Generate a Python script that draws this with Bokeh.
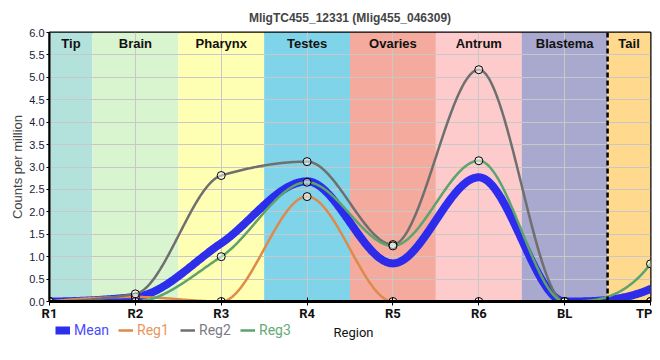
import numpy as np
from bokeh.plotting import figure
from bokeh.layouts import column
from bokeh.models import (Range1d, FixedTicker, Span, Legend, LegendItem,
                          PrintfTickFormatter, Label)
from bokeh.core.properties import value
from bokeh.embed import file_html
from bokeh.resources import INLINE

# ---------------- data ----------------
regions = ["R1", "R2", "R3", "R4", "R5", "R6", "BL", "TP"]
mean_vals = [0.0, 0.10, 1.30, 2.68, 0.85, 2.77, 0.0, 0.28]
reg1_vals = [0.0, 0.10, 0.0, 2.34, 0.0, 0.0, 0.0, 0.0]
reg2_vals = [0.0, 0.17, 2.81, 3.12, 1.27, 5.17, 0.0, 0.0]
reg3_vals = [0.0, 0.0, 1.0, 2.66, 1.24, 3.14, 0.0, 0.84]

band_names = ["Tip", "Brain", "Pharynx", "Testes", "Ovaries", "Antrum", "Blastema", "Tail"]
band_left = [0, 0.5, 1.5, 2.5, 3.5, 4.5, 5.5, 6.5]
band_right = [0.5, 1.5, 2.5, 3.5, 4.5, 5.5, 6.5, 7]
band_colors = ["#b3e2dd", "#d9f5d0", "#ffffb3", "#80d4ea", "#f4aa9c",
               "#fdcbcb", "#a9a8cf", "#fed98e"]
y_ticks = [0.0, 0.5, 1.0, 1.5, 2.0, 2.5, 3.0, 3.5, 4.0, 4.5, 5.0, 5.5, 6.0]

series_names = ["Mean", "Reg1", "Reg2", "Reg3"]
series_colors = ["#2323ee", "#dd8a4b", "#6f6f6f", "#5ca36c"]
label_colors = ["#4b4bff", "#e8965e", "#7b7b86", "#62ab76"]


def pchip(xk, yk, xs):
    xk = np.asarray(xk, float)
    yk = np.asarray(yk, float)
    h = np.diff(xk)
    dl = np.diff(yk) / h
    n = len(xk)
    d = np.zeros(n)
    for k in range(1, n - 1):
        if dl[k - 1] * dl[k] > 0:
            w1 = 2 * h[k] + h[k - 1]
            w2 = h[k] + 2 * h[k - 1]
            d[k] = (w1 + w2) / (w1 / dl[k - 1] + w2 / dl[k])

    def edge(h0, h1, m0, m1):
        e = ((2 * h0 + h1) * m0 - h0 * m1) / (h0 + h1)
        if np.sign(e) != np.sign(m0):
            e = 0.0
        elif np.sign(m0) != np.sign(m1) and abs(e) > abs(3 * m0):
            e = 3 * m0
        return e

    d[0] = edge(h[0], h[1], dl[0], dl[1])
    d[-1] = edge(h[-1], h[-2], dl[-1], dl[-2])
    idx = np.clip(np.searchsorted(xk, xs) - 1, 0, n - 2)
    t = (xs - xk[idx]) / h[idx]
    h00 = 2 * t**3 - 3 * t**2 + 1
    h10 = t**3 - 2 * t**2 + t
    h01 = -2 * t**3 + 3 * t**2
    h11 = t**3 - t**2
    return (h00 * yk[idx] + h10 * h[idx] * d[idx] + h01 * yk[idx + 1]
            + h11 * h[idx] * d[idx + 1])


xk = np.arange(len(regions))
xs = np.linspace(0, len(regions) - 1, 600)
all_vals = [mean_vals, reg1_vals, reg2_vals, reg3_vals]

p = figure(frame_width=601, frame_height=269, x_range=Range1d(0, 7), y_range=Range1d(0, 6),
           output_backend="svg", toolbar_location=None,
           title="MligTC455_12331 (Mlig455_046309)",
           min_border_left=49, min_border_right=2, min_border_top=31,
           min_border_bottom=0)
p.title.align = "center"
p.title.text_font = "Liberation Sans"
p.title.text_font_size = "12px"
p.title.text_font_style = "bold"
p.title.offset = 0
p.title.standoff = 16

# background bands
p.quad(left=band_left, right=band_right, bottom=0, top=6, fill_color=band_colors,
       line_color=None, level="image")
p.text(x=[(a + b) / 2 for a, b in zip(band_left, band_right)], y=6, text=band_names,
       text_align="center", text_baseline="top", y_offset=3,
       text_font=value("Liberation Sans"), text_font_style="bold",
       text_font_size="13px", text_color="#111111")

# grid
p.xgrid.grid_line_color = "#c8c8c8"
p.ygrid.grid_line_color = "#c8c8c8"
p.xgrid.grid_line_alpha = 1
p.ygrid.grid_line_alpha = 1

for name, vals, col in zip(series_names, all_vals, series_colors):
    ys = pchip(xk, vals, xs)
    if name == "Mean":
        p.line(xs, ys, line_color=col, line_width=8, line_alpha=0.95,
               line_join="round", line_cap="round")
    else:
        p.line(xs, ys, line_color=col, line_width=2.5, line_join="round")

for vals in all_vals[1:]:
    p.scatter(xk, vals, marker="circle", size=8, fill_color="white", fill_alpha=0.5,
              line_color="black", line_width=1)

p.add_layout(Span(location=6.5, dimension="height", line_color="black",
                  line_width=2.5, line_dash="5 3"))

# axes
p.xaxis.ticker = FixedTicker(ticks=list(xk))
p.xaxis.major_label_overrides = {int(i): r for i, r in zip(xk, regions)}
p.xaxis.major_label_text_font = "Roboto"
p.xaxis.major_label_text_font_size = "13px"
p.xaxis.major_label_text_font_style = "bold"
p.xaxis.major_label_text_color = "#111111"
p.xaxis.major_label_standoff = 0
p.xaxis.axis_line_width = 3
p.xaxis.axis_line_color = "black"
p.xaxis.major_tick_in = 4
p.xaxis.major_tick_out = 4
p.xaxis.major_tick_line_color = "black"
p.xaxis.minor_tick_line_color = None

p.yaxis.ticker = FixedTicker(ticks=y_ticks)
p.yaxis.formatter = PrintfTickFormatter(format="%.1f")
p.yaxis.axis_label = "Counts per million"
p.yaxis.axis_label_text_font = "Liberation Sans"
p.yaxis.axis_label_text_font_style = "normal"
p.yaxis.axis_label_text_font_size = "13px"
p.yaxis.axis_label_standoff = 1
p.yaxis.major_label_text_font = "Liberation Sans"
p.yaxis.major_label_text_font_size = "11px"
p.yaxis.major_label_text_color = "#1a1a3a"
p.yaxis.major_label_standoff = 2
p.yaxis.axis_line_width = 2
p.yaxis.axis_line_color = "black"
p.yaxis.major_tick_in = 0
p.yaxis.major_tick_out = 3
p.yaxis.minor_tick_line_color = None

p.outline_line_color = "black"
p.outline_line_width = 2
p.outline_line_alpha = 1

# legend strip below the chart, holding the coloured legend and the x-axis title
lf = figure(frame_width=601, frame_height=30, x_range=Range1d(-20, -19),
            y_range=Range1d(-20, -19), output_backend="svg", toolbar_location=None,
            x_axis_type=None, y_axis_type=None,
            min_border_left=0, min_border_right=0, min_border_top=0, min_border_bottom=0)
lf.outline_line_color = None
lf.xgrid.visible = False
lf.ygrid.visible = False

leg_x = [55, 118, 180, 240]
for name, vals, col, lc, lx in zip(series_names, all_vals, series_colors, label_colors, leg_x):
    if name == "Mean":
        r = lf.line(x=xk, y=vals, line_color=col, line_width=8, line_alpha=0.95)
    else:
        r = lf.line(x=xk, y=vals, line_color=col, line_width=2.5)
    lg = Legend(items=[LegendItem(label=name, renderers=[r])], location=(lx, 15),
                orientation="horizontal", padding=0, margin=0, spacing=0,
                glyph_width=15, glyph_height=14, label_height=14,
                label_standoff=4, label_text_color=lc,
                label_text_font="Roboto", label_text_font_size="14px",
                border_line_color=None, background_fill_alpha=0)
    lf.add_layout(lg, "center")

lf.add_layout(Label(x=304, y=21, x_units="screen", y_units="screen", text="Region",
                    text_align="center", text_baseline="middle",
                    text_font="Roboto", text_font_size="13px", text_color="#111111"))

layout = column(p, lf, spacing=0)
open("out.html", "w").write(file_html(layout, INLINE))
